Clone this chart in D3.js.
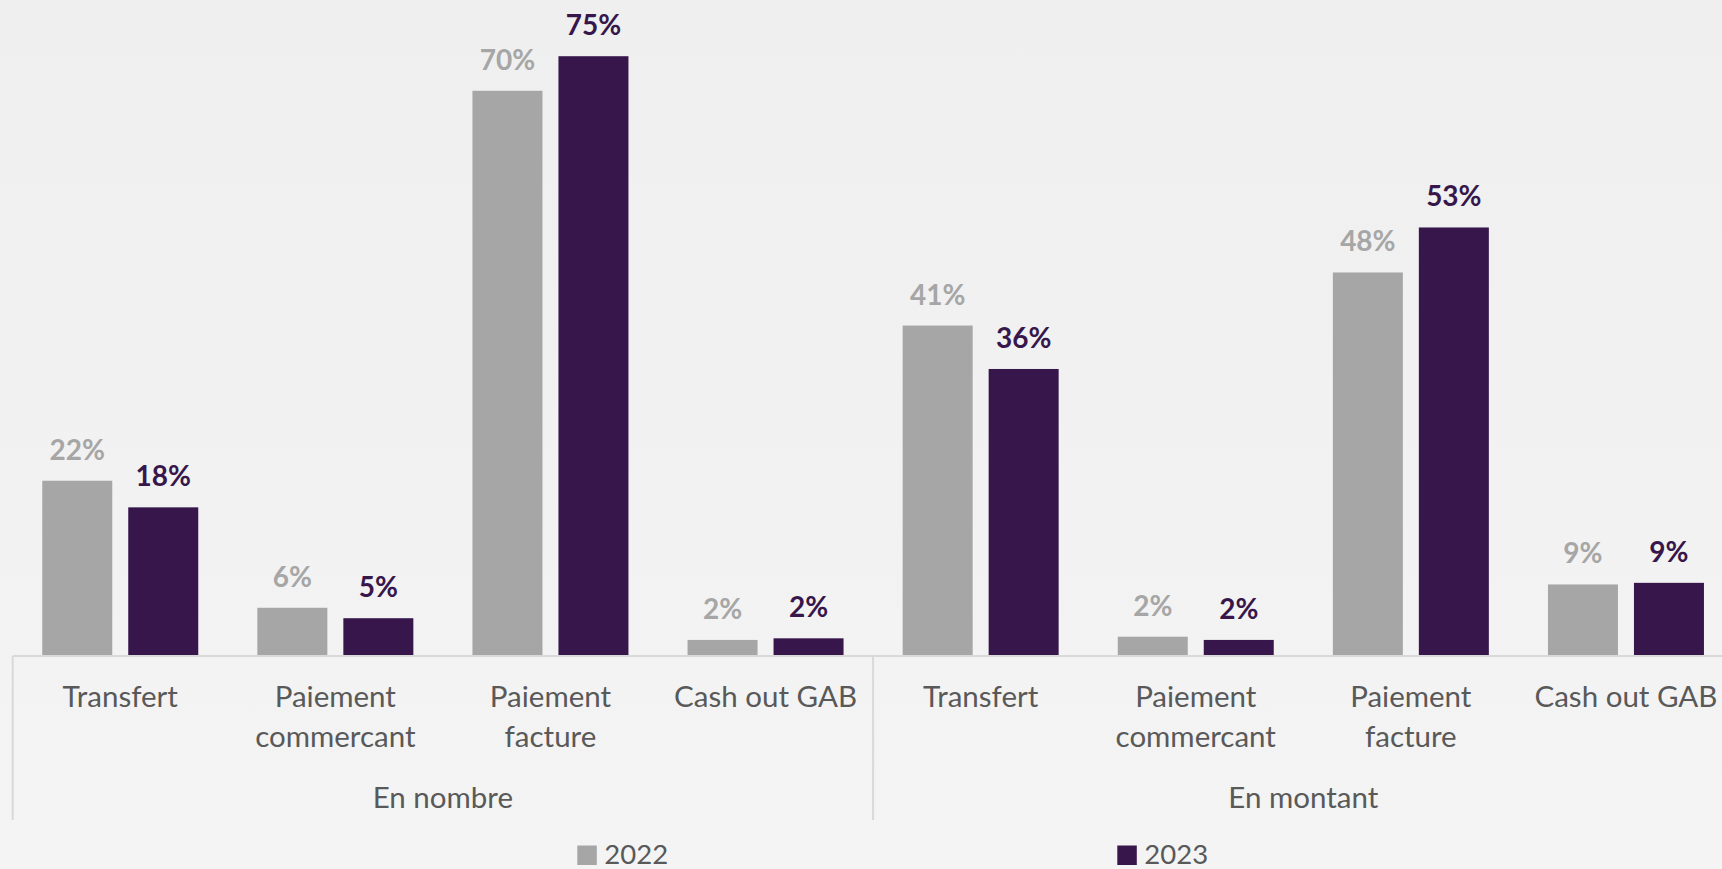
<!DOCTYPE html>
<html>
<head>
<meta charset="utf-8">
<script src="https://cdn.jsdelivr.net/npm/d3@7"></script>
<style>
  html, body { margin: 0; padding: 0; background: #f1f1f1; }
  svg { display: block; }
  text { font-family: Lato, "Open Sans", sans-serif; }
</style>
</head>
<body>
<svg id="chart" width="1722" height="869"></svg>
<script>
// ---- data ----
const groups = ["En nombre", "En montant"];
const categories = ["Transfert", "Paiement\ncommercant", "Paiement\nfacture", "Cash out GAB"];
const series = ["2022", "2023"];
const values2022 = [21.8, 6.0, 70.3, 2.0, 41.1, 2.4, 47.7, 8.9];
const values2023 = [18.49, 4.7, 74.6, 2.2, 35.7, 2.0, 53.3, 9.1];
const seriesColors = ["#A6A6A6", "#37174B"];

// ---- layout ----
const W = 1722, H = 869;
const plotLeft = 12.7, plotRight = 1733.5, baseY = 656;
const svg = d3.select("#chart");

const defs = svg.append("defs");
const grad = defs.append("linearGradient").attr("id", "bg").attr("x1", 0).attr("y1", 0).attr("x2", 0).attr("y2", 1);
grad.append("stop").attr("offset", "0%").attr("stop-color", "#EFEFEF");
grad.append("stop").attr("offset", "100%").attr("stop-color", "#F4F4F4");
svg.append("rect").attr("width", W).attr("height", H).attr("fill", "url(#bg)");

// flattened category slots
const slots = [];
groups.forEach((g, gi) => categories.forEach((c, ci) => slots.push({ group: g, gi, cat: c, idx: gi * categories.length + ci })));

const x0 = d3.scaleBand().domain(d3.range(slots.length)).range([plotLeft, plotRight]).paddingInner(0).paddingOuter(0);
const step = x0.step();
const pairW = 156;
const x1 = d3.scaleBand().domain(series).range([(step - pairW) / 2, (step + pairW) / 2]).paddingInner(0.186).paddingOuter(0);
const y = d3.scaleLinear().domain([0, 80]).range([baseY, baseY - 80 * 8.04]);

const fmt = v => d3.format(".0f")(v) + "%";
const allValues = [values2022, values2023];

// bars
const gBars = svg.append("g");
series.forEach((s, si) => {
  gBars.selectAll(null)
    .data(allValues[si].map((v, i) => ({ v, i })))
    .join("rect")
    .attr("x", d => x0(d.i) + x1(s))
    .attr("y", d => y(d.v))
    .attr("width", x1.bandwidth())
    .attr("height", d => y(0) - y(d.v))
    .attr("fill", seriesColors[si]);

  gBars.selectAll(null)
    .data(allValues[si].map((v, i) => ({ v, i })))
    .join("text")
    .attr("x", d => x0(d.i) + x1(s) + x1.bandwidth() / 2)
    .attr("y", d => y(d.v) - 21)
    .attr("text-anchor", "middle")
    .attr("font-size", 28)
    .attr("font-weight", 700)
    .attr("fill", seriesColors[si])
    .text(d => fmt(d.v));
});

// axis line
const axisColor = "#D9D9D9";
svg.append("line").attr("x1", plotLeft).attr("x2", plotRight).attr("y1", baseY).attr("y2", baseY)
  .attr("stroke", axisColor).attr("stroke-width", 2);

// group dividers
const dividerBottom = 820;
const dividerXs = d3.range(groups.length + 1).map(k => plotLeft + k * categories.length * step);
svg.selectAll(null).data(dividerXs).join("line")
  .attr("x1", d => d).attr("x2", d => d).attr("y1", baseY).attr("y2", dividerBottom)
  .attr("stroke", axisColor).attr("stroke-width", 2);

// category labels
const textColor = "#595959";
const catG = svg.append("g");
slots.forEach(sl => {
  const t = catG.append("text")
    .attr("x", x0(sl.idx) + step / 2)
    .attr("y", 707.3)
    .attr("text-anchor", "middle")
    .attr("font-size", 29.5)
    .attr("fill", textColor);
  sl.cat.split("\n").forEach((line, li) => {
    t.append("tspan").attr("x", x0(sl.idx) + step / 2).attr("dy", li === 0 ? 0 : 39.4).text(line);
  });
});

// group labels
svg.selectAll(null).data(groups).join("text")
  .attr("x", (d, i) => plotLeft + (i + 0.5) * categories.length * step)
  .attr("y", 808.3)
  .attr("text-anchor", "middle")
  .attr("font-size", 29.5)
  .attr("fill", textColor)
  .text(d => d);

// legend
const legendX = [577.3, 1117.3];
const lg = svg.selectAll(null).data(series).join("g")
  .attr("transform", (d, i) => `translate(${legendX[i]},0)`);
lg.append("rect").attr("x", 0).attr("y", 845.5).attr("width", 19.5).attr("height", 19.5)
  .attr("fill", (d, i) => seriesColors[i]);
lg.append("text").attr("x", 27).attr("y", 864).attr("font-size", 27.5).attr("fill", textColor).text(d => d);
</script>
</body>
</html>
